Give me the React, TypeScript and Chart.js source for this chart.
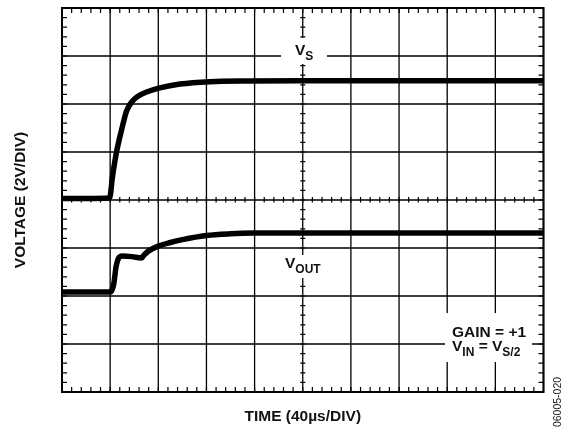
import React, { useEffect, useRef } from "react";
import { Chart, registerables } from "chart.js";

Chart.register(...registerables);

// Axes: time in µs (40 µs/div), voltage in V (2 V/div)
const timeGrid = [0, 40, 80, 120, 160, 200, 240, 280, 320, 360, 400];
const voltGrid = [-8, -6, -4, -2, 0, 2, 4, 6, 8];

// V_S trace
const vsTime = [0, 20, 39.5, 42, 45.5, 49.5, 53.7, 59, 64, 70.3, 81.3, 98, 123, 156, 200, 300, 400];
const vsVolts = [0.06, 0.06, 0.08, 1.0, 2.05, 2.92, 3.72, 4.15, 4.35, 4.5, 4.67, 4.83, 4.93, 4.96, 4.97, 4.97, 4.97];

// V_OUT trace
const voutTime = [0, 20, 40, 41.5, 43, 45, 47, 50, 58, 66, 68, 72, 80, 90, 100, 120, 140, 160, 200, 300, 400];
const voutVolts = [-3.83, -3.83, -3.83, -3.75, -3.5, -2.75, -2.42, -2.33, -2.36, -2.42, -2.3, -2.12, -1.92, -1.77, -1.65, -1.48, -1.41, -1.38, -1.37, -1.37, -1.37];

const minorTimeStep = 8;
const minorVoltStep = 0.4;

const MAIN_FONT = "bold 15.5px 'Liberation Sans', Arial, sans-serif";
const SUB_FONT = "bold 12px 'Liberation Sans', Arial, sans-serif";

function drawParts(ctx: CanvasRenderingContext2D, x: number, y: number, parts: [string, boolean][]) {
  let cx = x;
  ctx.textAlign = "left";
  ctx.textBaseline = "alphabetic";
  for (const [txt, sub] of parts) {
    ctx.font = sub ? SUB_FONT : MAIN_FONT;
    ctx.fillText(txt, cx, sub ? y + 5 : y);
    cx += ctx.measureText(txt).width;
  }
}

const scopePlugin = {
  id: "scope",
  beforeDatasetsDraw(chart: any) {
    const { ctx, chartArea: a, scales } = chart;
    const x = scales.x;
    const y = scales.y;
    ctx.save();
    ctx.strokeStyle = "#000";
    ctx.lineWidth = 1.3;
    ctx.beginPath();
    for (const t of timeGrid) {
      const px = x.getPixelForValue(t);
      ctx.moveTo(px, a.top);
      ctx.lineTo(px, a.bottom);
    }
    for (const v of voltGrid) {
      const py = y.getPixelForValue(v);
      ctx.moveTo(a.left, py);
      ctx.lineTo(a.right, py);
    }
    ctx.stroke();

    // minor ticks
    ctx.lineWidth = 1.2;
    ctx.beginPath();
    const cy = y.getPixelForValue(0);
    const cx = x.getPixelForValue(200);
    const nT = Math.round(400 / minorTimeStep);
    for (let i = 1; i < nT; i++) {
      const px = x.getPixelForValue(i * minorTimeStep);
      ctx.moveTo(px, a.top);
      ctx.lineTo(px, a.top + 5);
      ctx.moveTo(px, a.bottom);
      ctx.lineTo(px, a.bottom - 5);
      ctx.moveTo(px, cy - 3);
      ctx.lineTo(px, cy + 2.5);
    }
    const nV = Math.round(16 / minorVoltStep);
    for (let i = 1; i < nV; i++) {
      const py = y.getPixelForValue(-8 + i * minorVoltStep);
      ctx.moveTo(a.left, py);
      ctx.lineTo(a.left + 5, py);
      ctx.moveTo(a.right, py);
      ctx.lineTo(a.right - 5, py);
      ctx.moveTo(cx - 2.5, py);
      ctx.lineTo(cx + 2.5, py);
    }
    ctx.stroke();

    // white label backgrounds
    ctx.fillStyle = "#fff";
    ctx.fillRect(281, 38, 46, 26);
    ctx.fillRect(283, 255, 42, 23);
    ctx.fillRect(445, 313, 87, 49);
    ctx.restore();
  },
  afterDatasetsDraw(chart: any) {
    const { ctx, chartArea: a } = chart;
    ctx.save();
    ctx.strokeStyle = "#000";
    ctx.lineWidth = 2;
    ctx.strokeRect(a.left, a.top, a.right - a.left, a.bottom - a.top);

    ctx.fillStyle = "#111";
    drawParts(ctx, 295, 55, [["V", false], ["S", true]]);
    drawParts(ctx, 285, 268, [["V", false], ["OUT", true]]);
    drawParts(ctx, 452, 337, [["GAIN = +1", false]]);
    drawParts(ctx, 452, 351, [["V", false], ["IN", true], [" = V", false], ["S/2", true]]);

    // axis titles
    ctx.font = "bold 15.5px 'Liberation Sans', Arial, sans-serif";
    ctx.textAlign = "center";
    ctx.textBaseline = "alphabetic";
    ctx.fillText("TIME (40µs/DIV)", (a.left + a.right) / 2, 421);

    ctx.save();
    ctx.translate(24.5, (a.top + a.bottom) / 2);
    ctx.rotate(-Math.PI / 2);
    ctx.fillText("VOLTAGE (2V/DIV)", 0, 0);
    ctx.restore();

    ctx.save();
    ctx.translate(561, 402);
    ctx.rotate(-Math.PI / 2);
    ctx.font = "10.5px 'Liberation Sans', Arial, sans-serif";
    ctx.fillStyle = "#222";
    ctx.fillText("06005-020", 0, 0);
    ctx.restore();

    ctx.restore();
  },
};

export default function App() {
  const ref = useRef<HTMLCanvasElement | null>(null);
  useEffect(() => {
    document.body.style.margin = "0";
    const canvas = ref.current;
    if (!canvas) return;
    const chart = new Chart(canvas, {
      type: "line",
      data: {
        datasets: [
          {
            label: "VS",
            data: vsTime.map((t, i) => ({ x: t, y: vsVolts[i] })),
            borderColor: "#000",
            borderWidth: 5.5,
            pointRadius: 0,
            cubicInterpolationMode: "monotone",
            borderCapStyle: "butt",
            borderJoinStyle: "round",
          },
          {
            label: "VOUT",
            data: voutTime.map((t, i) => ({ x: t, y: voutVolts[i] })),
            borderColor: "#000",
            borderWidth: 5.5,
            pointRadius: 0,
            cubicInterpolationMode: "monotone",
            borderCapStyle: "butt",
            borderJoinStyle: "round",
          },
        ],
      },
      options: {
        animation: false,
        responsive: false,
        maintainAspectRatio: false,
        devicePixelRatio: 1,
        layout: { padding: { left: 62, right: 17.5, top: 8, bottom: 38 } },
        plugins: { legend: { display: false }, tooltip: { enabled: false } },
        scales: {
          x: { type: "linear", min: 0, max: 400, display: false },
          y: { type: "linear", min: -8, max: 8, display: false },
        },
      },
      plugins: [scopePlugin],
    } as any);
    return () => chart.destroy();
  }, []);
  return (
    <div style={{ position: "absolute", left: 0, top: 0, width: 561, height: 430, background: "#fff" }}>
      <canvas ref={ref} width={561} height={430} style={{ width: 561, height: 430, display: "block" }} />
    </div>
  );
}
